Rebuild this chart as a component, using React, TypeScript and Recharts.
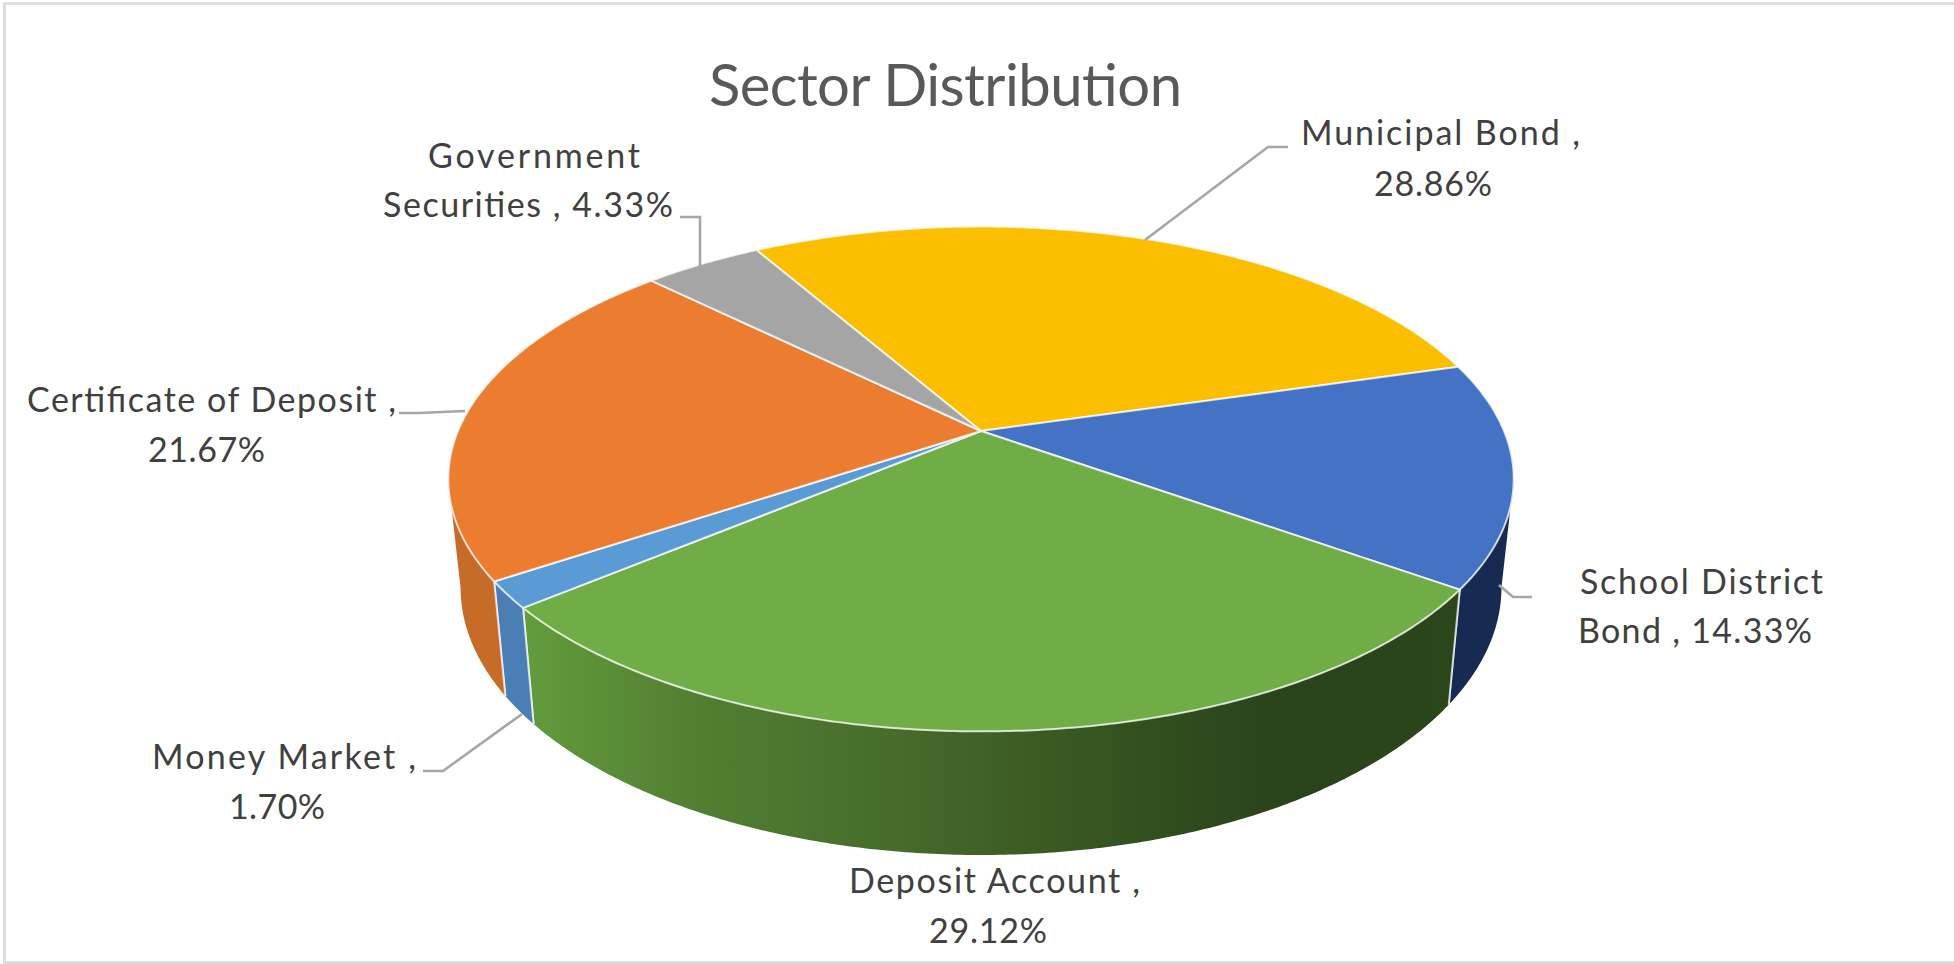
import React from "react";
import { PieChart, Pie } from "recharts";

const categories = ["Municipal Bond", "School District Bond", "Deposit Account", "Money Market", "Certificate of Deposit", "Government Securities"];
const shares = [28.86, 14.33, 29.12, 1.7, 21.67, 4.33];
const firstLines = ["Municipal Bond ,", "School District", "Deposit Account ,", "Money Market ,", "Certificate of Deposit ,", "Government"];
const secondLines = ["28.86%", "Bond , 14.33%", "29.12%", "1.70%", "21.67%", "Securities , 4.33%"];
const topColors = ["#FBBF00", "#4472C4", "#70AD47", "#5B9BD5", "#EC7C30", "#A5A5A5"];
const wallColors = ["#B38900", "#172B52", "url(#depositWall)", "#4A7EB5", "#C76B29", "#777777"];

// [x, baseline, width] of each text line, then the leader polyline
const firstLayout = [[1301, 145, 279], [1580, 594, 243], [849, 893, 291], [152, 769, 264], [27, 412, 369], [428, 168, 212]];
const secondLayout = [[1374, 196, 118], [1578, 643, 234], [929, 943, 118], [229, 819, 96], [148, 462, 117], [383, 217, 290]];
const leaders = [
  "1288,147 1268,147 1145,240",
  "1532,597 1513,597 1499,585",
  "",
  "423,771 443,771 522,714",
  "399,413 420,413 465,411",
  "680,217 700,217 700,266",
];

const tableData = categories.map((name, i) => ({ name, value: shares[i] }));

const FONT = "Lato, Carlito, Calibri, sans-serif";
const PERSPECTIVE = 0.19;
const TOP_SQUASH = 0.4652;
const BOTTOM_X = 0.977;
const BOTTOM_Y = 0.4933;
const BOTTOM_SHIFT = 105.5;
const VISIBLE_FROM = 101;
const VISIBLE_TO = 259;

const toClock = (deg: number) => 90 - deg;

function project(theta: number, cx: number, cy: number, r: number, bottom: boolean) {
  const a = (theta * Math.PI) / 180;
  const u = Math.sin(a);
  const v = Math.cos(a);
  const d = 1 + PERSPECTIVE * v;
  if (bottom) {
    return [cx + (r * BOTTOM_X * u) / d, cy + BOTTOM_SHIFT - (r * BOTTOM_Y * v) / d];
  }
  return [cx + (r * u) / d, cy - (r * TOP_SQUASH * v) / d];
}

function arcPoints(from: number, to: number, cx: number, cy: number, r: number, bottom: boolean) {
  const n = Math.max(2, Math.ceil(Math.abs(to - from) * 2));
  const out: number[][] = [];
  for (let i = 0; i <= n; i++) out.push(project(from + ((to - from) * i) / n, cx, cy, r, bottom));
  return out;
}

const pathOf = (pts: number[][]) => pts.map((p) => `${p[0].toFixed(2)},${p[1].toFixed(2)}`).join(" L");

function TopFace(props: any) {
  const { cx, cy, outerRadius, startAngle, endAngle, name } = props;
  const i = categories.indexOf(name ?? props.payload?.name);
  const pts = arcPoints(toClock(startAngle), toClock(endAngle), cx, cy, outerRadius, false);
  return (
    <path
      d={`M${cx},${cy} L${pathOf(pts)} Z`}
      fill={topColors[i]}
      stroke="#ffffff"
      strokeOpacity={0.75}
      strokeWidth={2}
      strokeLinejoin="round"
    />
  );
}

function WallFace(props: any) {
  const { cx, cy, outerRadius, startAngle, endAngle, name } = props;
  const i = categories.indexOf(name ?? props.payload?.name);
  const from = Math.max(toClock(startAngle), VISIBLE_FROM);
  const to = Math.min(toClock(endAngle), VISIBLE_TO);
  if (to <= from) return <g />;
  const top = arcPoints(from, to, cx, cy, outerRadius, false);
  const bot = arcPoints(to, from, cx, cy, outerRadius, true);
  const edges: React.ReactNode[] = [];
  [from, to].forEach((t) => {
    if (t > VISIBLE_FROM && t < VISIBLE_TO) {
      const a = project(t, cx, cy, outerRadius, false);
      const b = project(t, cx, cy, outerRadius, true);
      edges.push(<line key={t} x1={a[0]} y1={a[1]} x2={b[0]} y2={b[1]} stroke="#ffffff" strokeOpacity={0.7} strokeWidth={2} />);
    }
  });
  return (
    <g>
      <path d={`M${pathOf(top)} L${pathOf(bot)} Z`} fill={wallColors[i]} stroke="none" />
      {edges}
    </g>
  );
}

const labelFill = "#404040";

function renderLabel(props: any) {
  const i = categories.indexOf(props.name ?? props.payload?.name);
  const a = firstLayout[i];
  const b = secondLayout[i];
  return (
    <g>
      {leaders[i] ? <polyline points={leaders[i]} fill="none" stroke="#A6A6A6" strokeWidth={2.6} /> : null}
      <text x={a[0]} y={a[1]} textLength={a[2]} lengthAdjust="spacing" fontFamily={FONT} fontSize={34} fill={labelFill}>
        {firstLines[i]}
      </text>
      <text x={b[0]} y={b[1]} textLength={b[2]} lengthAdjust="spacing" fontFamily={FONT} fontSize={34} fill={labelFill}>
        {secondLines[i]}
      </text>
    </g>
  );
}

const commonPie = {
  data: tableData,
  dataKey: "value",
  nameKey: "name",
  cx: 981,
  cy: 431,
  outerRadius: 523,
  startAngle: 120,
  endAngle: -240,
  stroke: "none",
  isAnimationActive: false,
  rootTabIndex: -1,
};

export default function App() {
  return (
    <div style={{ position: "absolute", left: 0, top: 0, width: 1954, height: 964, background: "#ffffff", overflow: "hidden" }}>
      <PieChart width={1954} height={964} margin={{ top: 0, right: 0, bottom: 0, left: 0 }}>
        <defs>
          <linearGradient id="depositWall" gradientUnits="userSpaceOnUse" x1={525} y1={0} x2={1460} y2={0}>
            <stop offset="0%" stopColor="#629C3C" />
            <stop offset="18%" stopColor="#527F32" />
            <stop offset="40%" stopColor="#466B2A" />
            <stop offset="65%" stopColor="#32511F" />
            <stop offset="82%" stopColor="#2A421A" />
            <stop offset="100%" stopColor="#2C461B" />
          </linearGradient>
        </defs>
        <rect x={4.5} y={3.5} width={1960} height={959} fill="none" stroke="#DEDEDE" strokeWidth={3} />
        <text x={709} y={106} textLength={473} lengthAdjust="spacing" fontFamily={FONT} fontWeight={400} fontSize={58} fill="#595959">
          Sector Distribution
        </text>
        <Pie {...commonPie} shape={WallFace} inactiveShape={WallFace} activeShape={WallFace} label={false} labelLine={false} />
        <Pie {...commonPie} shape={TopFace} inactiveShape={TopFace} activeShape={TopFace} label={renderLabel} labelLine={false} />
      </PieChart>
    </div>
  );
}
